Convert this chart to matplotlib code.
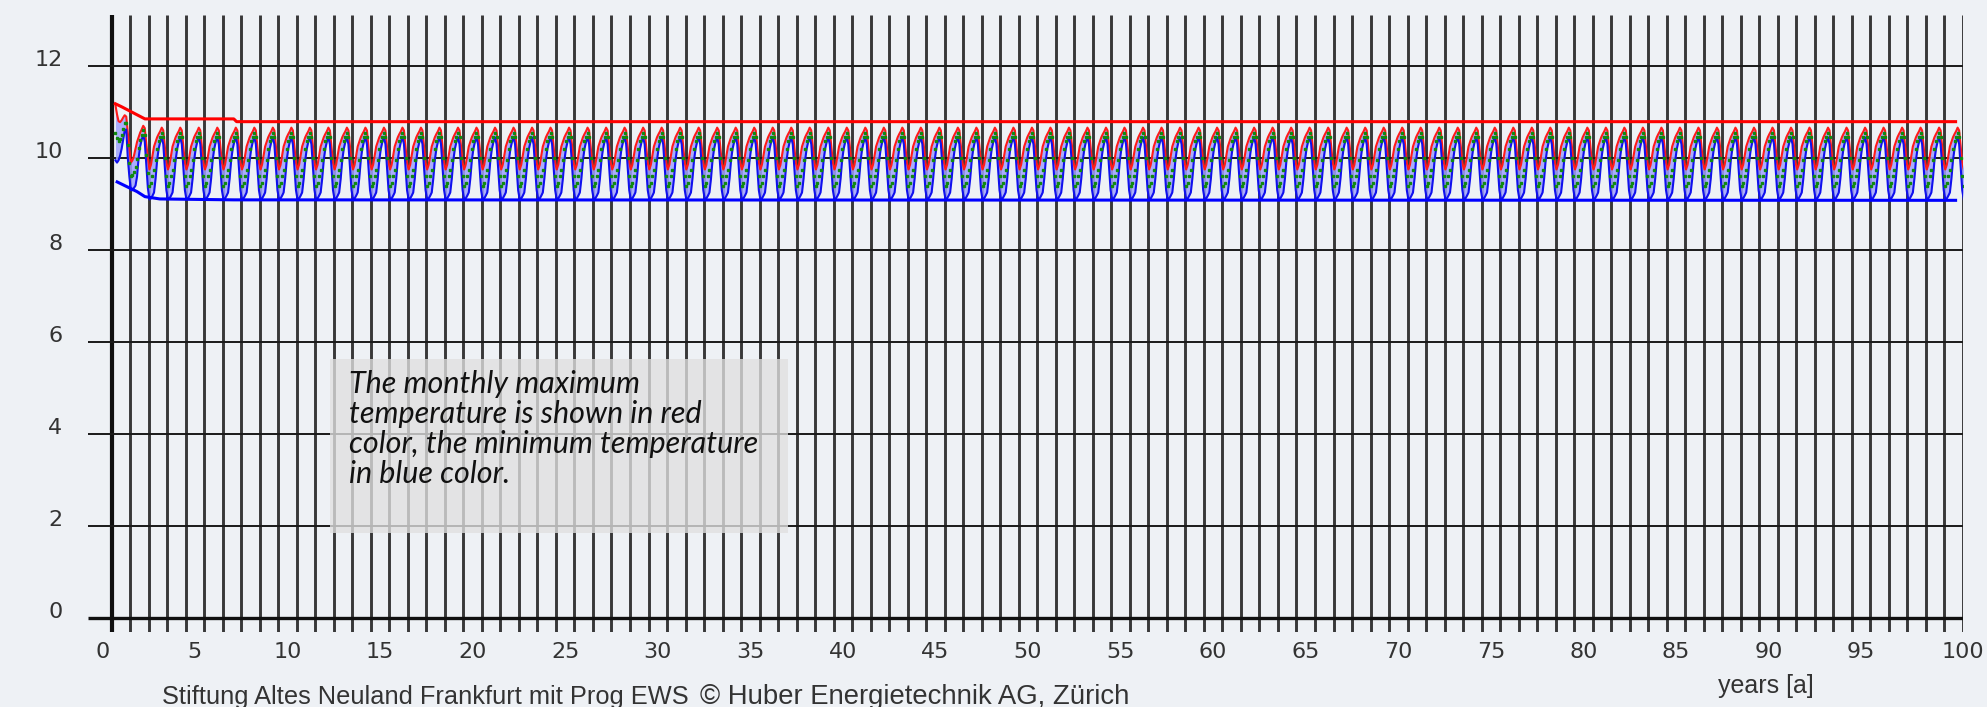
import numpy as np
import matplotlib
matplotlib.use("Agg")
import matplotlib.pyplot as plt
from matplotlib.patches import Rectangle

# ---------------- data ----------------
x_ticks = list(range(0, 101, 5))
y_ticks = [0, 2, 4, 6, 8, 10, 12]
grid_years = list(range(0, 101))

# first simulated year (March .. December of year 0)
max_year0 = [11.15, 10.95, 10.80, 10.78, 10.82, 10.88, 10.93, 10.90, 10.55, 10.20]
min_year0 = [9.95, 9.90, 9.95, 10.05, 10.20, 10.40, 10.60, 10.62, 10.00, 9.60]
# second year (January .. December of year 1)
max_year1 = [9.90, 9.95, 10.05, 10.20, 10.35, 10.45, 10.55, 10.62, 10.70, 10.65, 10.30, 10.00]
min_year1 = [9.30, 9.30, 9.35, 9.40, 9.60, 10.00, 10.25, 10.40, 10.50, 10.35, 9.85, 9.35]
# typical year from year 2 on (January .. December)
max_typ = [9.75, 9.85, 10.05, 10.25, 10.35, 10.45, 10.52, 10.58, 10.66, 10.60, 10.25, 9.90]
min_typ = [9.10, 9.12, 9.18, 9.25, 9.55, 9.95, 10.20, 10.35, 10.45, 10.30, 9.80, 9.30]
mean_typ = [9.40, 9.45, 9.60, 9.75, 9.95, 10.20, 10.36, 10.46, 10.55, 10.45, 10.00, 9.60]

# yearly extreme envelopes
env_max_t = [0.20, 0.56, 1.80, 6.60, 6.75, 99.60]
env_max_v = [11.18, 11.11, 10.85, 10.85, 10.79, 10.79]
env_min_t = [0.30, 1.37, 1.80, 2.60, 6.60, 99.60]
env_min_v = [9.48, 9.27, 9.16, 9.11, 9.09, 9.08]

note = ("The monthly maximum\ntemperature is shown in red\n"
        "color, the minimum temperature\nin blue color.")
footer_left = "Stiftung Altes Neuland Frankfurt mit Prog EWS"
footer_right = "\u00a9 Huber Energietechnik AG, Z\u00fcrich"
x_title = "years [a]"

# build monthly series (start March of year 0, end February of year 100)
n_typ_years = 98
max_series = max_year0 + max_year1 + max_typ * n_typ_years + max_typ[:2]
min_series = min_year0 + min_year1 + min_typ * n_typ_years + min_typ[:2]
mean_year0 = [(a + b) / 2 for a, b in zip(max_year0, min_year0)]
mean_year1 = [(a + b) / 2 for a, b in zip(max_year1, min_year1)]
mean_series = mean_year0 + mean_year1 + mean_typ * n_typ_years + mean_typ[:2]
months = np.arange(2, 2 + len(max_series))
t = months / 12.0 + 1 / 24.0

# ---------------- figure ----------------
W, H = 1987, 707
bg = "#eef1f5"
fig = plt.figure(figsize=(W / 100, H / 100), dpi=100, facecolor=bg)

px_per_year = (1963 - 111.6) / 100.0
px_per_unit = 46.0
x0_px, y0_px = 111.6, 618.0
xmin = -(x0_px - 87.5) / px_per_year
ymin = -(632 - y0_px) / px_per_unit
ymax = (y0_px - 15) / px_per_unit
left_px = 87.5
ax = fig.add_axes([left_px / W, (H - 632) / H, (1963 - left_px) / W, (632 - 15) / H])
ax.set_facecolor(bg)
ax.set_xlim(xmin, 100)
ax.set_ylim(ymin, ymax)
for s in ax.spines.values():
    s.set_visible(False)
ax.set_xticks([])
ax.set_yticks([])

# grid
ax.vlines(grid_years[1:], ymin, ymax, color="#383838", lw=2.1, zorder=1)
ax.vlines([0], ymin, ymax, color="#101010", lw=3.0, zorder=1)
ax.hlines(y_ticks[1:], xmin, 100, color="#1a1a1a", lw=1.4, zorder=2)
ax.hlines([0], xmin, 100, color="#101010", lw=2.4, zorder=2)

# monthly curves
ax.fill_between(t, min_series, max_series, color="#9ea2ff", alpha=0.85, lw=0, zorder=3)
ax.plot(t, max_series, color="#ff1a1a", lw=1.5, zorder=4)
ax.plot(t, min_series, color="#1010ee", lw=1.5, zorder=4)
ax.plot(t, mean_series, ls="none", marker="s", ms=1.6, color="#108a10", zorder=4)

# envelopes
ax.plot(env_max_t, env_max_v, color="#ff0000", lw=2.2, zorder=5)
ax.plot(env_min_t, env_min_v, color="#0000ff", lw=2.2, zorder=5)

# tick labels
lab_col = "#333333"
for v in y_ticks:
    ax.text(-2.65, v + 0.14, str(v), ha="right", va="center", fontsize=16,
            color=lab_col, family="DejaVu Sans")
for v in x_ticks:
    off = 0.0 if v == 100 else -0.5
    ax.text(v + off, -0.74, str(v), ha="center", va="center", fontsize=16,
            color=lab_col, family="DejaVu Sans")

ax.text((1766 - x0_px) / px_per_year, -1.48, x_title, ha="center", va="center",
        fontsize=18, color=lab_col, family="Liberation Sans")
ax.text((162 - x0_px) / px_per_year, -1.72, footer_left, ha="left", va="center",
        fontsize=18.3, color=lab_col, family="Liberation Sans")
ax.text((700 - x0_px) / px_per_year, -1.72, footer_right, ha="left", va="center",
        fontsize=19.8, color=lab_col, family="Liberation Sans")

# note box
bx0 = (330 - x0_px) / px_per_year
bx1 = (788 - x0_px) / px_per_year
by0 = (y0_px - 533) / px_per_unit
by1 = (y0_px - 359) / px_per_unit
ax.add_patch(Rectangle((bx0, by0), bx1 - bx0, by1 - by0, facecolor="#e0e0e0",
                       alpha=0.78, edgecolor="none", zorder=6))
ax.text((349 - x0_px) / px_per_year, (y0_px - 370) / px_per_unit, note,
        ha="left", va="top", fontsize=22, style="italic", family="Lato",
        color="#111111", linespacing=1.08, zorder=7)

fig.savefig("out.png", dpi=100, facecolor=bg)
